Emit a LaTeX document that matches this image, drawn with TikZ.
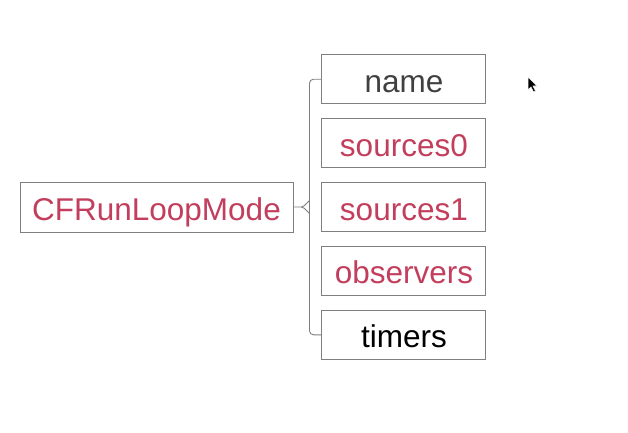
\documentclass[tikz,border=0pt]{standalone}
\usepackage{fontspec}
\setmainfont{Liberation Sans}
\usepackage{xcolor}
\usetikzlibrary{positioning,calc}
\definecolor{modered}{HTML}{C23E5C}
\definecolor{boxgray}{HTML}{7F7F7F}
\definecolor{namegray}{HTML}{404040}

\begin{document}
\begin{tikzpicture}[
  x=1pt, y=-1pt,
  font=\fontsize{31.5}{36}\selectfont,
  fld/.style={draw=boxgray, line width=0.9pt, minimum width=164pt, minimum height=49pt,
              inner sep=0pt, text height=28pt, text depth=2pt},
  hot/.style={fld, text=modered},
  brk/.style={draw=boxgray, line width=0.9pt},
]
\useasboundingbox (0,0) rectangle (628,432);
% ---------- mode box ----------
\node[hot, minimum width=273pt, minimum height=50pt] (mode) at (156.5,207) {CFRunLoopMode};
% ---------- fields ----------
\node[hot, right=28pt of mode] (src1) {sources1};
\node[hot, above=14pt of src1] (src0) {sources0};
\node[fld, text=namegray, above=14pt of src0] (nm) {name};
\node[hot, below=14pt of src1] (obs) {observers};
\node[fld, below=14pt of obs] (tm) {timers};
% ---------- bracket ----------
\coordinate (bk) at ($(mode.east)+(16,0)$);
\draw[brk, rounded corners=4pt] (nm.west) -| (bk) |- (tm.west);
\draw[brk] (mode.east) -- ++(8,0) to[out=0, in=90] ($(bk)+(0,-5)$);
\draw[brk] ($(mode.east)+(8,0)$) to[out=0, in=-90] ($(bk)+(0,5)$);
% ---------- pointer ----------
\filldraw[draw=white, fill=black, line width=0.6pt] (528,77) -- (528,90) -- (531,87) -- (533.5,92) -- (535.5,91) -- (533,86) -- (537,86) -- cycle;
\end{tikzpicture}
\end{document}
